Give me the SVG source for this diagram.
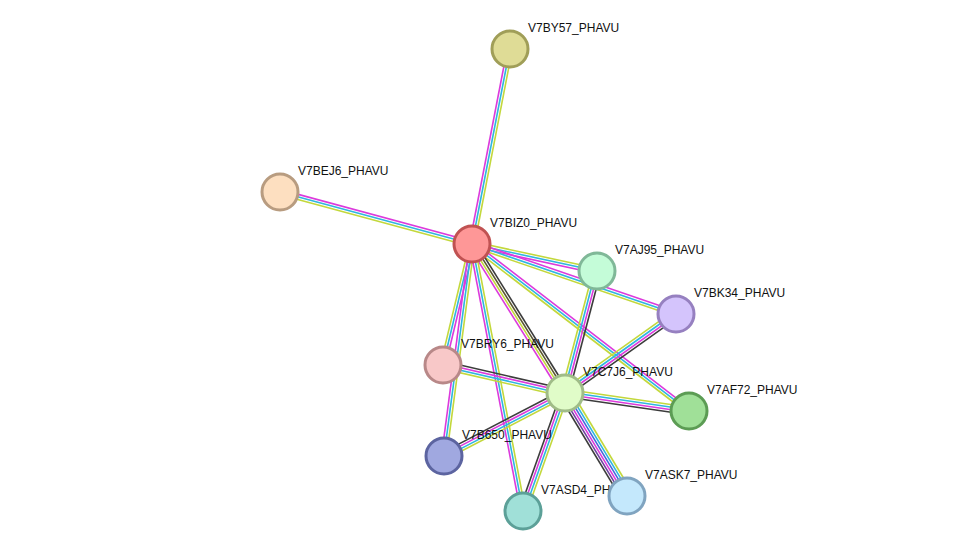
<svg xmlns="http://www.w3.org/2000/svg" width="976" height="557" viewBox="0 0 976 557">
<style>
line{stroke-width:1.6;fill:none}
.m{stroke:#dc3adc}.c{stroke:#2fb6e0}.y{stroke:#c3d83c}.k{stroke:#3c3c3c}.b{stroke:#4466dd}.p{stroke:#6e40a0}.o{stroke:#5a5630}
circle{stroke-width:3}
text{font-family:"Liberation Sans",Arial,sans-serif;font-size:12px;fill:#111}
</style>
<rect width="976" height="557" fill="#fff"/>
<g id="connectors">
<g transform="translate(472 244) rotate(-79.03)"><line x2="199.7" y1="-2.5" y2="-2.5" class="m"/><line x2="199.7" class="c"/><line x2="199.7" y1="2.5" y2="2.5" class="y"/></g>
<g transform="translate(472 244) rotate(-164.85)"><line x2="198.9" y1="2.5" y2="2.5" class="m"/><line x2="198.9" class="c"/><line x2="198.9" y1="-2.5" y2="-2.5" class="y"/></g>
<g transform="translate(472 244) rotate(12.19)"><line x2="127.9" y1="-2.5" y2="-2.5" class="y"/><line x2="127.9" class="c"/><line x2="127.9" y1="2.5" y2="2.5" class="m"/></g>
<g transform="translate(472 244) rotate(18.93)"><line x2="215.7" y1="-2.5" y2="-2.5" class="m"/><line x2="215.7" class="c"/><line x2="215.7" y1="2.5" y2="2.5" class="y"/></g>
<g transform="translate(472 244) rotate(37.59)"><line x2="273.8" y1="-2.5" y2="-2.5" class="m"/><line x2="273.8" class="c"/><line x2="273.8" y1="2.5" y2="2.5" class="y"/></g>
<g transform="translate(472 244) rotate(58.03)"><line x2="175.6" y1="3.75" y2="3.75" class="m"/><line x2="175.6" y1="1.25" y2="1.25" class="y"/><line x2="175.6" y1="-1.25" y2="-1.25" class="o"/><line x2="175.6" y1="-3.75" y2="-3.75" class="k"/></g>
<g transform="translate(472 244) rotate(103.48)"><line x2="124.4" y1="2.5" y2="2.5" class="y"/><line x2="124.4" class="c"/><line x2="124.4" y1="-2.5" y2="-2.5" class="m"/></g>
<g transform="translate(472 244) rotate(97.52)"><line x2="213.8" y1="2.5" y2="2.5" class="m"/><line x2="213.8" class="c"/><line x2="213.8" y1="-2.5" y2="-2.5" class="y"/></g>
<g transform="translate(472 244) rotate(79.19)"><line x2="271.8" y1="2.5" y2="2.5" class="m"/><line x2="271.8" class="c"/><line x2="271.8" y1="-2.5" y2="-2.5" class="y"/></g>
<g transform="translate(565 393) rotate(-75.30)"><line x2="126.1" y1="-3.75" y2="-3.75" class="y"/><line x2="126.1" y1="-1.25" y2="-1.25" class="c"/><line x2="126.1" y1="1.25" y2="1.25" class="m"/><line x2="126.1" y1="3.75" y2="3.75" class="k"/></g>
<g transform="translate(565 393) rotate(-35.44)"><line x2="136.2" y1="-3.75" y2="-3.75" class="y"/><line x2="136.2" y1="-1.25" y2="-1.25" class="c"/><line x2="136.2" y1="1.25" y2="1.25" class="m"/><line x2="136.2" y1="3.75" y2="3.75" class="k"/></g>
<g transform="translate(565 393) rotate(8.26)"><line x2="125.3" y1="-3.75" y2="-3.75" class="y"/><line x2="125.3" y1="-1.25" y2="-1.25" class="c"/><line x2="125.3" y1="1.25" y2="1.25" class="m"/><line x2="125.3" y1="3.75" y2="3.75" class="k"/></g>
<g transform="translate(565 393) rotate(58.95)"><line x2="120.2" y1="6.25" y2="6.25" class="k"/><line x2="120.2" y1="3.75" y2="3.75" class="p"/><line x2="120.2" y1="1.25" y2="1.25" class="m"/><line x2="120.2" y1="-1.25" y2="-1.25" class="b"/><line x2="120.2" y1="-3.75" y2="-3.75" class="c"/><line x2="120.2" y1="-6.25" y2="-6.25" class="y"/></g>
<g transform="translate(565 393) rotate(109.59)"><line x2="125.3" y1="3.75" y2="3.75" class="k"/><line x2="125.3" y1="1.25" y2="1.25" class="m"/><line x2="125.3" y1="-1.25" y2="-1.25" class="c"/><line x2="125.3" y1="-3.75" y2="-3.75" class="y"/></g>
<g transform="translate(565 393) rotate(152.50)"><line x2="136.4" y1="3.75" y2="3.75" class="k"/><line x2="136.4" y1="1.25" y2="1.25" class="m"/><line x2="136.4" y1="-1.25" y2="-1.25" class="c"/><line x2="136.4" y1="-3.75" y2="-3.75" class="y"/></g>
<g transform="translate(565 393) rotate(-167.07)"><line x2="125.2" y1="3.75" y2="3.75" class="k"/><line x2="125.2" y1="1.25" y2="1.25" class="m"/><line x2="125.2" y1="-1.25" y2="-1.25" class="c"/><line x2="125.2" y1="-3.75" y2="-3.75" class="y"/></g>
</g>
<g id="V7BY57_PHAVU"><circle cx="510" cy="49" r="18" fill="#dfdc96" stroke="#a09e58"/><text x="528" y="32">V7BY57_PHAVU</text></g>
<g id="V7BEJ6_PHAVU"><circle cx="280" cy="192" r="18" fill="#fddfc0" stroke="#b89c80"/><text x="298" y="175">V7BEJ6_PHAVU</text></g>
<g id="V7BIZ0_PHAVU"><circle cx="472" cy="244" r="18" fill="#fe9797" stroke="#c05252"/><text x="490" y="227">V7BIZ0_PHAVU</text></g>
<g id="V7AJ95_PHAVU"><circle cx="597" cy="271" r="18" fill="#c4fcd8" stroke="#80b898"/><text x="615" y="254">V7AJ95_PHAVU</text></g>
<g id="V7BK34_PHAVU"><circle cx="676" cy="314" r="18" fill="#d4c4fc" stroke="#9680c0"/><text x="694" y="297">V7BK34_PHAVU</text></g>
<g id="V7BRY6_PHAVU"><circle cx="443" cy="365" r="18" fill="#f8c8c8" stroke="#b88888"/><text x="461" y="348">V7BRY6_PHAVU</text></g>
<g id="V7C7J6_PHAVU"><circle cx="565" cy="393" r="18" fill="#e0fcc8" stroke="#a0bc88"/><text x="583" y="376">V7C7J6_PHAVU</text></g>
<g id="V7AF72_PHAVU"><circle cx="689" cy="411" r="18" fill="#a0e098" stroke="#5c9c54"/><text x="707" y="394">V7AF72_PHAVU</text></g>
<g id="V7B650_PHAVU"><circle cx="444" cy="456" r="18" fill="#a0a8e0" stroke="#5c64a0"/><text x="462" y="439">V7B650_PHAVU</text></g>
<g id="V7ASD4_PHAVU"><circle cx="523" cy="511" r="18" fill="#a0e0d8" stroke="#5ca098"/><text x="541" y="494">V7ASD4_PHAVU</text></g>
<g id="V7ASK7_PHAVU"><circle cx="627" cy="496" r="18" fill="#c4e8fc" stroke="#80a4c0"/><text x="645" y="479">V7ASK7_PHAVU</text></g>
</svg>
